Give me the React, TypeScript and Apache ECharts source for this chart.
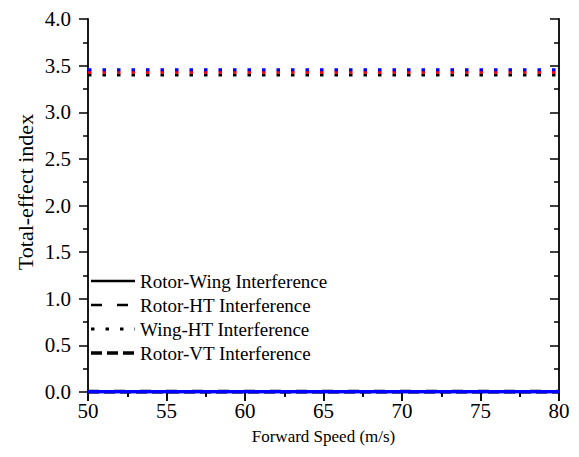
import React, { useEffect, useRef } from "react";
import * as echarts from "echarts";

const speeds = [50, 55, 60, 65, 70, 75, 80];
const rotorWing = [0.0, 0.0, 0.0, 0.0, 0.0, 0.0, 0.0];
const rotorHT = [0.01, 0.01, 0.01, 0.01, 0.01, 0.01, 0.01];
const wingHT = [3.4, 3.4, 3.4, 3.4, 3.4, 3.4, 3.4];
const rotorVT = [0.0, 0.0, 0.0, 0.0, 0.0, 0.0, 0.0];
const redDotted = [3.43, 3.43, 3.43, 3.43, 3.43, 3.43, 3.43];
const blueDotted = [3.455, 3.455, 3.455, 3.455, 3.455, 3.455, 3.455];
const blueSolid = [0.003, 0.003, 0.003, 0.003, 0.003, 0.003, 0.003];
const legendNames = ["Rotor-Wing Interference", "Rotor-HT Interference", "Wing-HT Interference", "Rotor-VT Interference"];
const xName = "Forward Speed (m/s)";
const yName = "Total-effect index";

const FONT = "Liberation Serif";

const dotType = [3.5, 11];
const htType = [11, 15];
const vtType = [11, 5];

function pts(v: number[]) {
  return speeds.map((s, i) => [s, v[i]]);
}

export default function App() {
  const ref = useRef<HTMLDivElement>(null);
  useEffect(() => {
    if (!ref.current) return;
    const chart = echarts.init(ref.current, null, { renderer: "svg" });
    const axisLine = { show: true, lineStyle: { color: "#000", width: 1.8 } };
    const minor = { show: true, splitNumber: 2, length: 5, lineStyle: { color: "#000", width: 1.5 } };
    const xBase = {
      type: "value" as const,
      min: 50,
      max: 80,
      interval: 5,
      splitLine: { show: false },
      axisLine,
      minorTick: minor,
    };
    const yBase = {
      type: "value" as const,
      min: 0,
      max: 4,
      interval: 0.5,
      splitLine: { show: false },
      axisLine,
      minorTick: minor,
    };
    const legendStyles = [
      { width: 2.5, lineDash: null as any },
      { width: 2.5, lineDash: htType },
      { width: 3, lineDash: dotType },
      { width: 3.5, lineDash: vtType },
    ];
    const legendY = [281, 305, 329, 353];
    const graphics: any[] = [];
    legendNames.forEach((n, i) => {
      graphics.push({
        type: "line",
        shape: { x1: 91, y1: legendY[i], x2: 135, y2: legendY[i] },
        style: { stroke: "#000", lineWidth: legendStyles[i].width, lineDash: legendStyles[i].lineDash },
        silent: true,
      });
      graphics.push({
        type: "text",
        x: 140,
        y: legendY[i],
        style: { text: n, fontFamily: FONT, fontSize: 19, fill: "#000", verticalAlign: "middle", align: "left" },
        silent: true,
      });
    });
    graphics.push({
      type: "text",
      x: 25,
      y: 192,
      rotation: Math.PI / 2,
      style: { text: yName, fontFamily: FONT, fontSize: 22, fill: "#000", verticalAlign: "middle", align: "center" },
      silent: true,
    });
    chart.setOption({
      animation: false,
      backgroundColor: "#fff",
      textStyle: { fontFamily: FONT },
      grid: { left: 88, right: 20, top: 19, bottom: 65, containLabel: false },
      graphic: graphics,
      xAxis: [
        {
          ...xBase,
          position: "bottom",
          axisTick: { show: true, inside: false, length: 9, lineStyle: { color: "#000", width: 1.5 } },
          axisLabel: { fontFamily: FONT, fontSize: 21, color: "#000", margin: 8 },
          name: xName,
          nameLocation: "middle",
          nameGap: 36,
          nameTextStyle: { fontFamily: FONT, fontSize: 17, color: "#000" },
        },
        {
          ...xBase,
          position: "top",
          axisTick: { show: true, inside: true, length: 9, lineStyle: { color: "#000", width: 1.5 } },
          axisLabel: { show: false },
        },
      ],
      yAxis: [
        {
          ...yBase,
          position: "left",
          axisTick: { show: true, inside: false, length: 9, lineStyle: { color: "#000", width: 1.5 } },
          axisLabel: {
            fontFamily: FONT,
            fontSize: 21,
            color: "#000",
            margin: 17,
            formatter: (v: number) => v.toFixed(1),
          },
        },
        {
          ...yBase,
          position: "right",
          axisTick: { show: true, inside: true, length: 9, lineStyle: { color: "#000", width: 1.5 } },
          axisLabel: { show: false },
        },
      ],
      series: [
        {
          name: "Rotor-Wing Interference",
          type: "line",
          data: pts(rotorWing),
          symbol: "none",
          lineStyle: { color: "#000", width: 2.5, type: "solid" },
        },
        {
          name: "Rotor-HT Interference",
          type: "line",
          data: pts(rotorHT),
          symbol: "none",
          lineStyle: { color: "#000", width: 2.5, type: htType },
        },
        {
          name: "Wing-HT Interference",
          type: "line",
          data: pts(wingHT),
          symbol: "none",
          lineStyle: { color: "#000", width: 3, type: dotType },
        },
        {
          name: "Rotor-VT Interference",
          type: "line",
          data: pts(rotorVT),
          symbol: "none",
          lineStyle: { color: "#000", width: 3.5, type: vtType },
        },
        {
          name: "red-dotted",
          type: "line",
          data: pts(redDotted),
          symbol: "none",
          lineStyle: { color: "#ff0000", width: 3, type: dotType },
        },
        {
          name: "blue-dotted",
          type: "line",
          data: pts(blueDotted),
          symbol: "none",
          lineStyle: { color: "#0000ff", width: 3, type: dotType },
        },
        {
          name: "blue-solid",
          type: "line",
          data: pts(blueSolid),
          symbol: "none",
          lineStyle: { color: "#0000ff", width: 3.5, type: "solid" },
        },
      ],
    });
    return () => chart.dispose();
  }, []);
  return <div ref={ref} style={{ width: 579, height: 457, position: "absolute", left: 0, top: 0 }} />;
}
